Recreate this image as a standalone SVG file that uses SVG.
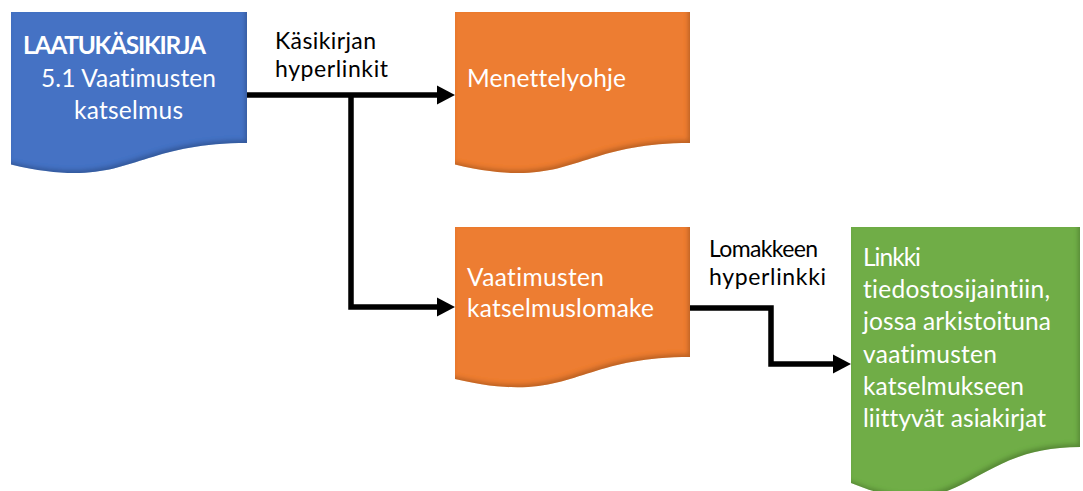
<svg xmlns="http://www.w3.org/2000/svg" width="1083" height="491" viewBox="0 0 1083 491">
  <style>
    .doc { filter: url(#edge); }
    .blue { fill: #4472C4; }
    .orange { fill: #ED7D31; }
    .green { fill: #70AD47; }
    text { font-variant-ligatures: none; font-feature-settings: "liga" 0, "dlig" 0; }
    .t { font-family: Lato, "Open Sans", "Liberation Sans", sans-serif; font-size: 24.5px; fill: #FFFFFF; }
    .b { font-weight: bold; }
    .lbl { font-family: Lato, "Open Sans", "Liberation Sans", sans-serif; font-size: 23px; fill: #000000; }
    .wire { fill: none; stroke: #000000; stroke-width: 5.5; stroke-linejoin: miter; }
  </style>
  <defs>
    <!-- soft inner shade along the right and bottom edges of each document shape -->
    <filter id="edge" x="-5%" y="-5%" width="110%" height="110%">
      <feComponentTransfer in="SourceAlpha" result="inv">
        <feFuncA type="table" tableValues="1 0"/>
      </feComponentTransfer>
      <feOffset in="inv" dx="-2" dy="-3" result="off"/>
      <feGaussianBlur in="off" stdDeviation="2" result="blur"/>
      <feFlood flood-color="#000000" flood-opacity="0.4"/>
      <feComposite in2="blur" operator="in" result="shadow"/>
      <feComposite in="shadow" in2="SourceAlpha" operator="in" result="inner"/>
      <feMerge>
        <feMergeNode in="SourceGraphic"/>
        <feMergeNode in="inner"/>
      </feMerge>
    </filter>
    <marker id="head" markerUnits="userSpaceOnUse" markerWidth="18" markerHeight="20" refX="0" refY="10" orient="auto">
      <path d="M0,0.5 L18,10 L0,19.5 Z" fill="#000000"/>
    </marker>
  </defs>

  <!-- connectors -->
  <g id="connectors">
    <path class="wire" d="M247,95 H437" marker-end="url(#head)"/>
    <path class="wire" d="M351,95 V307 H437" marker-end="url(#head)"/>
    <path class="wire" d="M690,308 H771 V364 H833" marker-end="url(#head)"/>
    <text class="lbl" x="275" y="49" textLength="101">Käsikirjan</text>
    <text class="lbl" x="275" y="77" textLength="113">hyperlinkit</text>
    <text class="lbl" x="709" y="257" textLength="109">Lomakkeen</text>
    <text class="lbl" x="709" y="285" textLength="117">hyperlinkki</text>
  </g>

  <!-- quality manual section -->
  <g id="node-manual">
    <path class="doc blue" d="M11,12 H247 V143 C129,143 129,192.5 11,164.5 Z"/>
    <text class="t b" x="23" y="54" textLength="183">LAATUKÄSIKIRJA</text>
    <text class="t" x="41" y="87" textLength="175">5.1 Vaatimusten</text>
    <text class="t" x="74" y="119" textLength="109">katselmus</text>
  </g>

  <!-- procedure instruction -->
  <g id="node-procedure">
    <path class="doc orange" d="M455,12 H690 V143 C572.5,143 572.5,192.5 455,164.5 Z"/>
    <text class="t" x="467" y="87" textLength="159">Menettelyohje</text>
  </g>

  <!-- review form -->
  <g id="node-form">
    <path class="doc orange" d="M455,227 H690 V357 C572.5,357 572.5,406.5 455,379 Z"/>
    <text class="t" x="467" y="286" textLength="137">Vaatimusten</text>
    <text class="t" x="467" y="317" textLength="187">katselmuslomake</text>
  </g>

  <!-- archive link -->
  <g id="node-archive">
    <path class="doc green" d="M851,227 H1080 V447 C965.5,447 965.5,530 851,483 Z"/>
    <text class="t" x="863" y="266" textLength="58">Linkki</text>
    <text class="t" x="863" y="298" textLength="187">tiedostosijaintiin,</text>
    <text class="t" x="863" y="330" textLength="188">jossa arkistoituna</text>
    <text class="t" x="863" y="363" textLength="134">vaatimusten</text>
    <text class="t" x="863" y="395" textLength="161">katselmukseen</text>
    <text class="t" x="863" y="427" textLength="183">liittyvät asiakirjat</text>
  </g>
</svg>
